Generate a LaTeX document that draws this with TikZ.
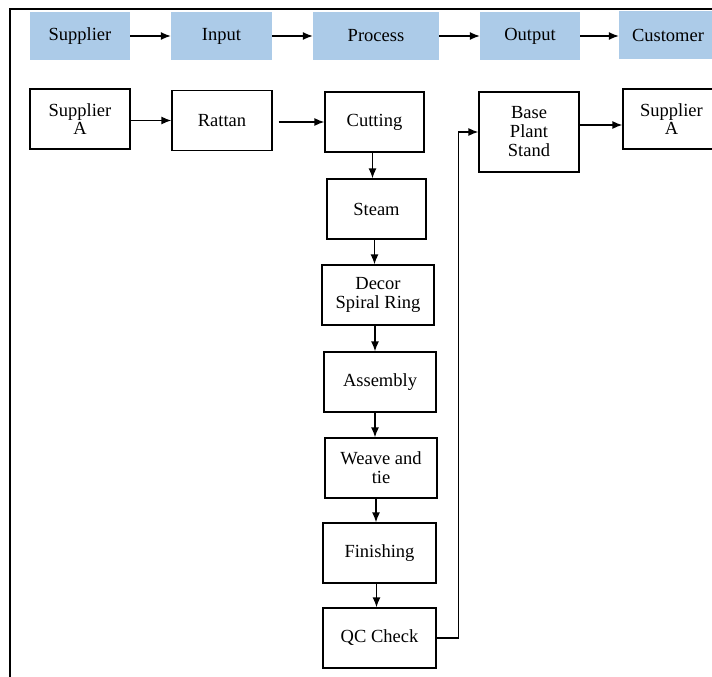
\documentclass[tikz,border=0pt]{standalone}
\usepackage{fontspec}
\setmainfont{Liberation Serif}
\usepackage{tikz}
\usetikzlibrary{arrows.meta}

\definecolor{hdrblue}{RGB}{172,203,232}

\tikzset{
  hdr/.style={fill=hdrblue, minimum width=100pt, minimum height=48pt, inner sep=0pt},
  box/.style={draw, line width=1.3pt, minimum height=60pt, inner sep=0pt, align=center},
  arr/.style={-{Latex[length=10pt,width=8pt]}, line width=1.3pt}
}

\begin{document}
\begin{tikzpicture}[x=1pt, y=-1pt, every node/.style={font=\fontsize{18.5}{19}\selectfont}]
            \useasboundingbox (0,0) rectangle (712,677);
            % frame (only top and left edges show)
            \draw[line width=2pt] (10,677) -- (10,9) -- (712,9);

            % header row
            \node[hdr] (hsup) at (80,36) {Supplier};
            \node[hdr, minimum width=101pt] (hin) at (221.5,36) {Input};
            \node[hdr, minimum width=126pt] (hpro) at (376,36) {Process};
            \node[hdr] (hout) at (530,36) {Output};
            \node[hdr, minimum width=98pt] (hcus) at (668,35) {Customer};
            \draw[arr] (hsup.east) -- (hin.west);
            \draw[arr] (hin.east) -- (hpro.west);
            \draw[arr] (hpro.east) -- (hout.west);
            \draw[arr] (hout.east) -- (hcus.west |- hout.east);

            % supplier and input
            \node[box, minimum width=100pt] (supa) at (80,119) {Supplier\\[-1pt]A};
            \node[box, minimum width=100pt] (rattan) at (222,120.5) {Rattan};
            \draw[arr] (supa.east |- rattan.west) -- (rattan.west);

            % process column
            \node[box, minimum width=99pt] (cut) at (374.5,122) {Cutting};
            \node[box, minimum width=99pt] (steam) at (376.5,209) {Steam};
            \node[box, minimum width=112pt] (decor) at (378,295) {Decor\\Spiral Ring};
            \node[box, minimum width=112pt] (assy) at (380,382) {Assembly};
            \node[box, minimum width=112pt] (weave) at (381,468) {Weave and\\tie};
            \node[box, minimum width=113pt] (finish) at (379.5,553) {Finishing};
            \node[box, minimum width=113pt] (qc) at (379.5,638) {QC Check};
            \draw[arr] ([xshift=6pt]rattan.east |- cut.west) -- (cut.west);
            \draw[arr] ([xshift=-2pt]cut.south) -- ([xshift=-2pt]cut.south |- steam.north);
            \draw[arr] ([xshift=-2pt]steam.south) -- ([xshift=-2pt]steam.south |- decor.north);
            \draw[arr] ([xshift=-3pt]decor.south) -- ([xshift=-3pt]decor.south |- assy.north);
            \draw[arr] ([xshift=-5pt]assy.south) -- ([xshift=-5pt]assy.south |- weave.north);
            \draw[arr] ([xshift=-5pt]weave.south) -- ([xshift=-5pt]weave.south |- finish.north);
            \draw[arr] ([xshift=-3pt]finish.south) -- ([xshift=-3pt]finish.south |- qc.north);

            % output and customer
            \node[box, minimum width=100pt, minimum height=80pt] (base) at (529,132) {Base\\Plant\\Stand};
            \node[box, minimum width=97pt] (supb) at (671.5,119) {Supplier\\[-1pt]A};
            \draw[arr] (qc.east) -- ++(22,0) |- (base.west);
            \draw[arr] ([yshift=7pt]base.east) -- ([yshift=7pt]base.east -| supb.west);
        \end{tikzpicture}
\end{document}
